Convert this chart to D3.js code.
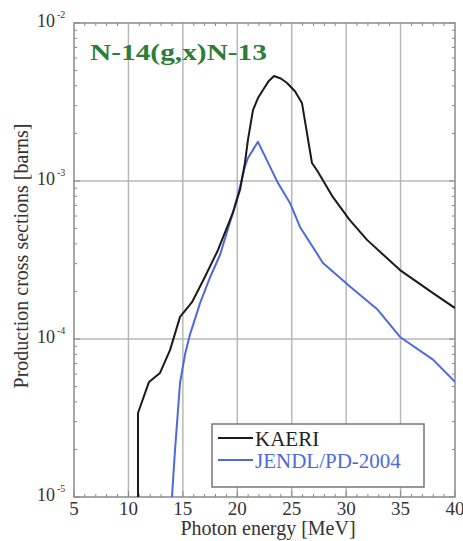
<!DOCTYPE html>
<html><head><meta charset="utf-8">
<script src="https://cdn.jsdelivr.net/npm/d3@7"></script>
<style>body{margin:0;background:#fff}svg{display:block}</style>
</head><body>
<svg id="c" width="463" height="541"></svg>
<script>
const xTicks = [5,10,15,20,25,30,35,40];
const yTicks = [1e-5,1e-4,1e-3,1e-2];
const yTickExp = ["-5","-4","-3","-2"];
const seriesNames = ["KAERI","JENDL/PD-2004"];
const kaeriE = [10.88,10.88,11.89,12.9,13.82,14.74,15.84,17.0,18.23,19.6,20.25,20.7,20.98,21.44,21.9,22.36,22.9,23.37,24.0,24.57,25.3,25.94,26.86,27.32,28.79,30.3,31.92,34.95,37.98,40];
const kaeriXS = [1e-5,3.4e-5,5.35e-5,6.1e-5,8.5e-5,1.38e-4,1.71e-4,2.45e-4,3.66e-4,6.3e-4,8.8e-4,1.3e-3,1.82e-3,2.81e-3,3.35e-3,3.77e-3,4.3e-3,4.62e-3,4.45e-3,4.17e-3,3.7e-3,3.12e-3,1.3e-3,1.17e-3,7.9e-4,5.7e-4,4.24e-4,2.73e-4,1.95e-4,1.57e-4];
const jendlE = [14.0,14.28,14.74,15.2,15.66,16.57,17.49,18.41,19.6,20.25,20.7,20.98,21.9,23.74,24.84,25.76,27.87,30.35,32.83,34.95,37.98,40];
const jendlXS = [1e-5,1.98e-5,5.27e-5,8.0e-5,1.07e-4,1.68e-4,2.45e-4,3.4e-4,6.3e-4,9.2e-4,1.23e-3,1.4e-3,1.77e-3,9.7e-4,7.26e-4,5.12e-4,3.03e-4,2.15e-4,1.55e-4,1.03e-4,7.4e-5,5.35e-5];

const L=74,R=455,T=23,B=497;
const svg=d3.select("#c");
const x=d3.scaleLinear().domain([5,40]).range([L,R]);
const y=d3.scaleLog().domain([1e-5,1e-2]).range([B,T]);
const serif="'Liberation Serif','Times New Roman',serif";

// grid
const g=svg.append("g");
g.selectAll(".vx").data(xTicks.slice(1,-1)).join("line")
 .attr("x1",d=>x(d)).attr("x2",d=>x(d)).attr("y1",T).attr("y2",B)
 .attr("stroke","#b8b8b8").attr("stroke-width",1.5);
g.selectAll(".hy").data(yTicks.slice(1,-1)).join("line")
 .attr("y1",d=>y(d)).attr("y2",d=>y(d)).attr("x1",L).attr("x2",R)
 .attr("stroke","#b8b8b8").attr("stroke-width",1.5);

// minor ticks
const minorX=d3.range(6,40,1).filter(v=>v%5!==0);
const minorY=[];
[1e-5,1e-4,1e-3].forEach(dec=>{for(let k=2;k<=9;k++)minorY.push(dec*k);});
const tk=svg.append("g").attr("stroke","#888").attr("stroke-width",1);
tk.selectAll(".mxb").data(minorX).join("line").attr("x1",d=>x(d)).attr("x2",d=>x(d)).attr("y1",B).attr("y2",B-3);
tk.selectAll(".mxt").data(minorX).join("line").attr("x1",d=>x(d)).attr("x2",d=>x(d)).attr("y1",T).attr("y2",T+3);
tk.selectAll(".Mxb").data(xTicks).join("line").attr("x1",d=>x(d)).attr("x2",d=>x(d)).attr("y1",B).attr("y2",B-6);
tk.selectAll(".myl").data(minorY).join("line").attr("y1",d=>y(d)).attr("y2",d=>y(d)).attr("x1",L).attr("x2",L+3);
tk.selectAll(".myr").data(minorY).join("line").attr("y1",d=>y(d)).attr("y2",d=>y(d)).attr("x1",R).attr("x2",R-3);
tk.selectAll(".Myl").data(yTicks).join("line").attr("y1",d=>y(d)).attr("y2",d=>y(d)).attr("x1",L).attr("x2",L+6);
tk.selectAll(".Myr").data(yTicks).join("line").attr("y1",d=>y(d)).attr("y2",d=>y(d)).attr("x1",R).attr("x2",R-6);

// frame
svg.append("rect").attr("x",L).attr("y",T).attr("width",R-L).attr("height",B-T)
 .attr("fill","none").attr("stroke","#8a8a8a").attr("stroke-width",1.5);

// clip
svg.append("clipPath").attr("id","pc").append("rect").attr("x",L).attr("y",T).attr("width",R-L).attr("height",B-T);

const line=d3.line().x(d=>x(d[0])).y(d=>y(d[1]));
const kaeri=kaeriE.map((e,i)=>[e,kaeriXS[i]]);
const jendl=jendlE.map((e,i)=>[e,jendlXS[i]]);
svg.append("path").datum(jendl).attr("clip-path","url(#pc)").attr("d",line)
 .attr("fill","none").attr("stroke","#4f69dc").attr("stroke-width",2).attr("stroke-linejoin","round");
svg.append("path").datum(kaeri).attr("clip-path","url(#pc)").attr("d",line)
 .attr("fill","none").attr("stroke","#1a1a1a").attr("stroke-width",2).attr("stroke-linejoin","round");

// x tick labels
svg.selectAll(".xl").data(xTicks).join("text")
 .attr("x",d=>x(d)).attr("y",515).attr("text-anchor","middle")
 .attr("font-family",serif).attr("font-size",19).attr("fill","#333").text(d=>d);
svg.append("text").attr("x",268).attr("y",535).attr("text-anchor","middle")
 .attr("font-family",serif).attr("font-size",20).attr("fill","#333").text("Photon energy [MeV]");

// y tick labels
yTicks.forEach((v,i)=>{
  const yy=y(v);
  svg.append("text").attr("x",55).attr("y",yy+4).attr("text-anchor","end")
   .attr("font-family",serif).attr("font-size",18).attr("fill","#333").text("10");
  svg.append("text").attr("x",57).attr("y",yy-5).attr("text-anchor","start")
   .attr("font-family",serif).attr("font-size",10).attr("fill","#333").text(yTickExp[i]);
});
svg.append("text").attr("transform","translate(28,256) rotate(-90)").attr("text-anchor","middle")
 .attr("font-family",serif).attr("font-size",20).attr("fill","#333").text("Production cross sections [barns]");

// title
svg.append("text").attr("x",90).attr("y",60).attr("font-family",serif).attr("font-weight","bold")
 .attr("font-size",24).attr("fill","#2e7d36").attr("textLength",177).attr("lengthAdjust","spacingAndGlyphs")
 .text("N-14(g,x)N-13");

// legend
const lg=svg.append("g");
lg.append("rect").attr("x",212).attr("y",424).attr("width",212).attr("height",63)
 .attr("fill","#fff").attr("stroke","#777").attr("stroke-width",1.5);
const colors=["#1a1a1a","#4f69dc"];
seriesNames.forEach((n,i)=>{
  const yy=438+i*22;
  lg.append("line").attr("x1",218).attr("x2",253).attr("y1",yy).attr("y2",yy)
   .attr("stroke",colors[i]).attr("stroke-width",2);
  lg.append("text").attr("x",255).attr("y",yy+8).attr("font-family",serif).attr("font-size",21)
   .attr("fill",i===0?"#222":"#4f69dc").text(n);
});
</script>
</body></html>
